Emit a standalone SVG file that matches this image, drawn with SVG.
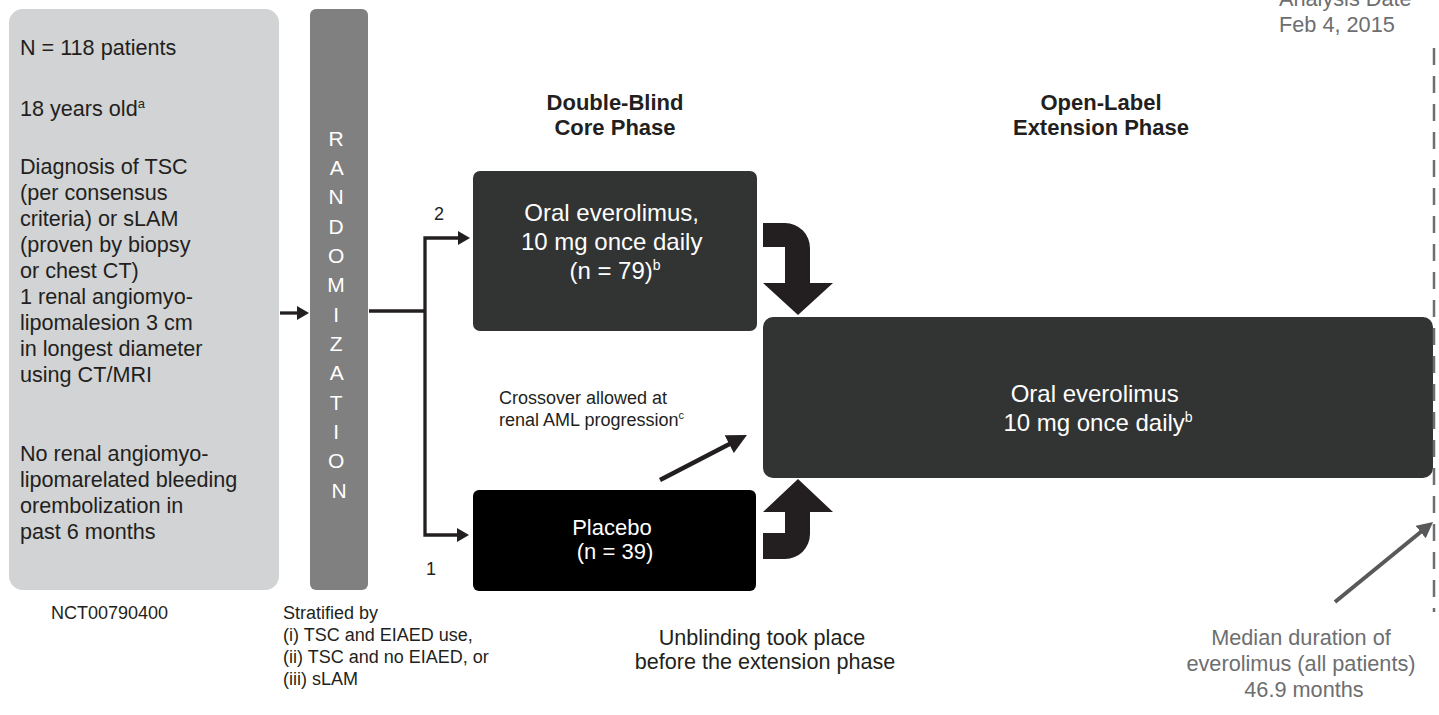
<svg xmlns="http://www.w3.org/2000/svg" width="1439" height="715" viewBox="0 0 1439 715">
<style>
text { font-family: "Liberation Sans", Arial, sans-serif; }
.t { fill: #231f20; font-size: 21.6px; }
.w { fill: #ffffff; }
.g { fill: #6d6e70; font-size: 21.7px; }
.hd { fill: #231f20; font-size: 22px; font-weight: bold; text-anchor: middle; }
.sm { fill: #231f20; font-size: 18px; }
.mid { text-anchor: middle; }
.conn { fill: none; stroke: #231f20; stroke-width: 3.3; stroke-linejoin: miter; }
.big { fill: #231f20; }
.dark { fill: #323434; }
</style>
<defs>
<marker id="ah" markerUnits="userSpaceOnUse" markerWidth="12" markerHeight="14" refX="4" refY="7" orient="auto" viewBox="0 0 12 14">
<path d="M0,0 L12,7 L0,14 Z" fill="#231f20"/>
</marker>
<marker id="ahBig" markerUnits="userSpaceOnUse" markerWidth="20" markerHeight="20" refX="8" refY="10" orient="auto" viewBox="0 0 20 20">
<path d="M0,0 L20,10 L0,20 Z" fill="#231f20"/>
</marker>
<marker id="ahGray" markerUnits="userSpaceOnUse" markerWidth="16" markerHeight="16" refX="6" refY="8" orient="auto" viewBox="0 0 16 16">
<path d="M0,0 L16,8 L0,16 Z" fill="#58595b"/>
</marker>
</defs>

<g id="eligibility">
<rect x="9" y="9" width="270" height="581" rx="14" fill="#d1d3d4"/>
<text class="t">
<tspan x="20" y="55">N = 118 patients</tspan>
<tspan x="20" y="116">18 years old<tspan font-size="13" dy="-8">a</tspan></tspan>
<tspan x="20" y="173.5">Diagnosis of TSC</tspan>
<tspan x="20" y="199.5">(per consensus</tspan>
<tspan x="20" y="225.5">criteria) or sLAM</tspan>
<tspan x="20" y="251.5">(proven by biopsy</tspan>
<tspan x="20" y="277.5">or chest CT)</tspan>
<tspan x="20" y="303.5">1 renal angiomyo-</tspan>
<tspan x="20" y="329.5">lipomalesion 3 cm</tspan>
<tspan x="20" y="355.5">in longest diameter</tspan>
<tspan x="20" y="381.5">using CT/MRI</tspan>
<tspan x="20" y="461">No renal angiomyo-</tspan>
<tspan x="20" y="487">lipomarelated bleeding</tspan>
<tspan x="20" y="513">orembolization in</tspan>
<tspan x="20" y="539">past 6 months</tspan>
</text>
</g>

<g id="randomization">
<rect x="310" y="9" width="58" height="581" rx="6" fill="#808080"/>
<text class="w mid" font-size="21">
<tspan x="339" y="145.5">R</tspan>
<tspan x="339" y="174.8">A</tspan>
<tspan x="339" y="204.2">N</tspan>
<tspan x="339" y="233.5">D</tspan>
<tspan x="339" y="262.8">O</tspan>
<tspan x="339" y="292.2">M</tspan>
<tspan x="339" y="321.5">I</tspan>
<tspan x="339" y="350.8">Z</tspan>
<tspan x="339" y="380.2">A</tspan>
<tspan x="339" y="409.5">T</tspan>
<tspan x="339" y="438.8">I</tspan>
<tspan x="339" y="468.2">O</tspan>
<tspan x="339" y="497.5">N</tspan>
</text>
</g>

<g id="headers">
<text class="hd"><tspan x="615" y="110">Double-Blind</tspan><tspan x="615" y="135">Core Phase</tspan></text>
<text class="hd"><tspan x="1101" y="110">Open-Label</tspan><tspan x="1101" y="135">Extension Phase</tspan></text>
</g>

<g id="everolimus-core">
<rect class="dark" x="473" y="171" width="284" height="160" rx="7"/>
<text class="w mid" font-size="24">
<tspan x="615" y="221">Oral everolimus,</tspan>
<tspan x="615" y="250">10 mg once daily</tspan>
<tspan x="615" y="279">(n = 79)<tspan font-size="14" dy="-9">b</tspan></tspan>
</text>
</g>

<g id="placebo">
<rect x="473" y="490" width="283" height="101" rx="6" fill="#000000"/>
<text class="w mid" font-size="22">
<tspan x="615" y="535">Placebo</tspan>
<tspan x="615" y="559">(n = 39)</tspan>
</text>
</g>

<g id="extension">
<rect class="dark" x="763" y="317" width="670" height="161" rx="10"/>
<text class="w mid" font-size="24">
<tspan x="1098" y="402">Oral everolimus</tspan>
<tspan x="1098" y="431">10 mg once daily<tspan font-size="14" dy="-9">b</tspan></tspan>
</text>
</g>

<g id="connectors">
<line class="conn" x1="280" y1="313" x2="301" y2="313" marker-end="url(#ah)"/>
<path class="conn" d="M369 311 H425"/>
<path class="conn" d="M425 311 V238 H462" marker-end="url(#ah)"/>
<path class="conn" d="M425 311 V535 H461" marker-end="url(#ah)"/>
<path class="big" d="M763 223 H785 A25 25 0 0 1 810 248 V283 H833 L798 315 L763 283 H785 V247 H763 Z"/>
<path class="big" d="M763 533 H785 V512 H763 L798 479 L833 512 H810 V534 A25 25 0 0 1 785 559 H763 Z"/>
<line x1="660" y1="480" x2="736.3" y2="440.5" stroke="#231f20" stroke-width="4.5" marker-end="url(#ahBig)"/>
<line x1="1335" y1="602" x2="1425.3" y2="528.3" stroke="#58595b" stroke-width="4" marker-end="url(#ahGray)"/>
<line x1="1434" y1="48" x2="1434" y2="612" stroke="#6d6e70" stroke-width="2.5" stroke-dasharray="17 11"/>
</g>

<g id="labels">
<text class="sm"><tspan x="434" y="220">2</tspan></text>
<text class="sm"><tspan x="426" y="575">1</tspan></text>
<text class="sm">
<tspan x="499" y="404">Crossover allowed at</tspan>
<tspan x="499" y="426">renal AML progression<tspan font-size="11" dy="-7">c</tspan></tspan>
</text>
<text class="sm"><tspan x="51" y="619">NCT00790400</tspan></text>
<text class="sm">
<tspan x="283" y="619">Stratified by</tspan>
<tspan x="283" y="641">(i) TSC and EIAED use,</tspan>
<tspan x="283" y="663">(ii) TSC and no EIAED, or</tspan>
<tspan x="283" y="685">(iii) sLAM</tspan>
</text>
<text class="t mid">
<tspan x="765" y="645">Unblinding took place</tspan>
<tspan x="765" y="669">before the extension phase</tspan>
</text>
<text class="g mid">
<tspan x="1304" y="645">Median duration of</tspan>
<tspan x="1304" y="671">everolimus (all patients)</tspan>
<tspan x="1304" y="697">46.9 months</tspan>
</text>
<text class="g">
<tspan x="1279" y="6">Analysis Date</tspan>
<tspan x="1279" y="32">Feb 4, 2015</tspan>
</text>
</g>
</svg>
